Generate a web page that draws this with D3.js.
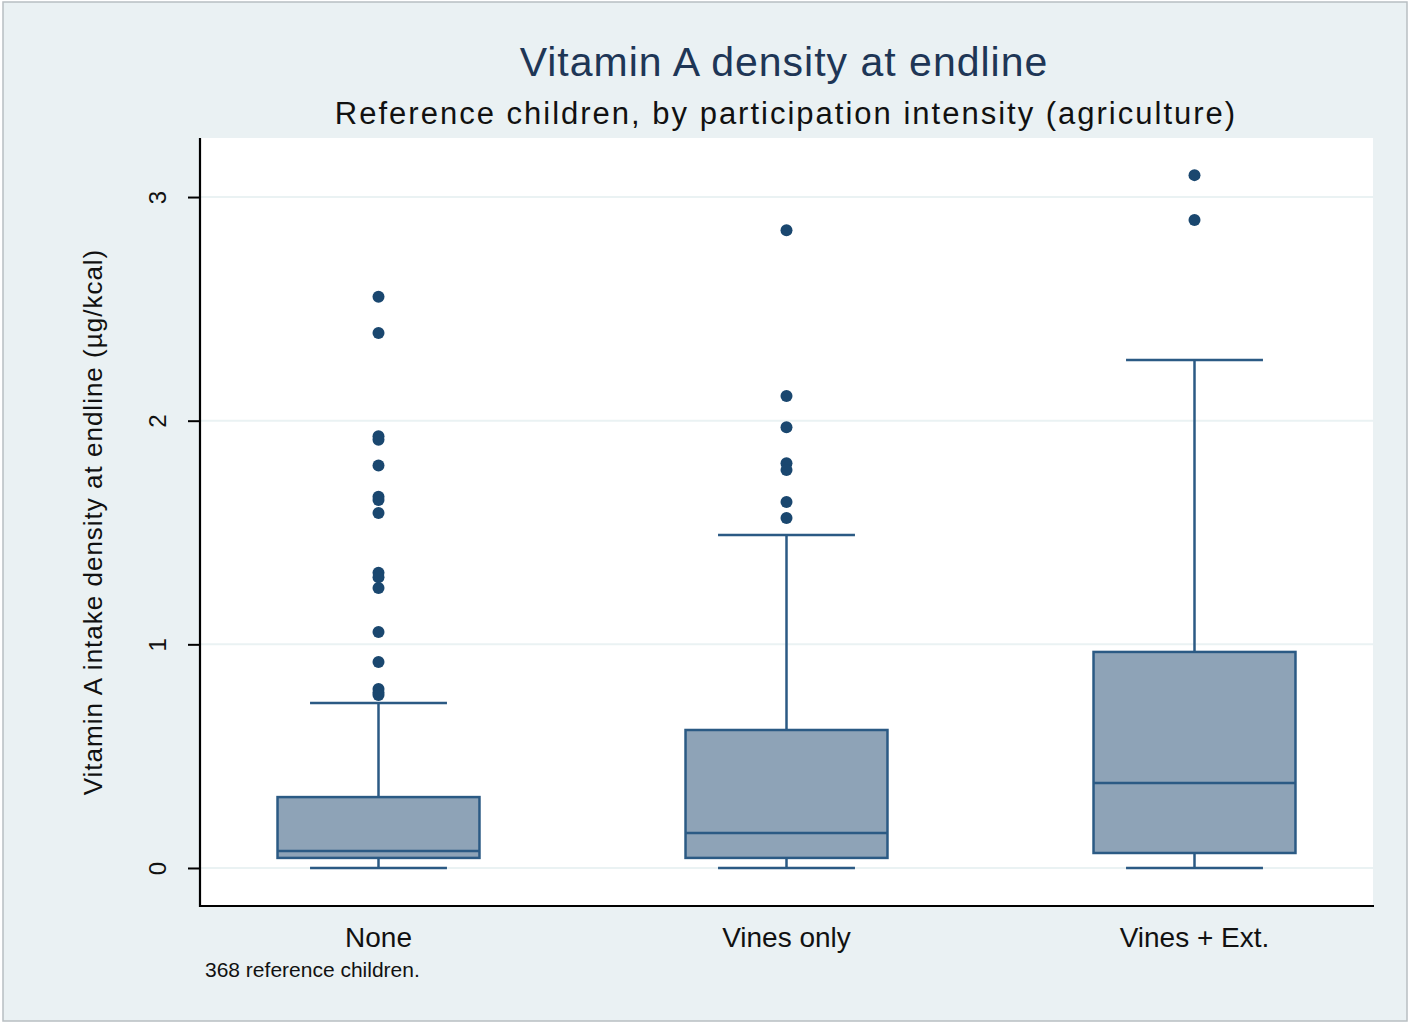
<!DOCTYPE html>
<html>
<head>
<meta charset="utf-8">
<script src="https://cdn.jsdelivr.net/npm/d3@7"></script>
<style>
  body { margin: 0; background: #ffffff; }
  text { font-family: "Liberation Sans", Arial, sans-serif; }
</style>
</head>
<body>
<div id="chart"></div>
<script>
// data
const groups = ["None", "Vines only", "Vines + Ext."];
const lowerWhisker = [0, 0, 0];
const q1 = [0.045, 0.045, 0.067];
const median = [0.076, 0.156, 0.380];
const q3 = [0.317, 0.617, 0.966];
const upperWhisker = [0.738, 1.489, 2.271];
const outliersNone = [2.554, 2.392, 1.93, 1.915, 1.80, 1.66, 1.645, 1.587, 1.32, 1.30, 1.252, 1.055, 0.921, 0.80, 0.785, 0.773];
const outliersVines = [2.852, 2.110, 1.971, 1.81, 1.78, 1.636, 1.565];
const outliersVinesExt = [3.098, 2.897];
const yTicks = [0, 1, 2, 3];

const W = 1409, H = 1023;
const margin = {top: 138, right: 36, bottom: 117, left: 200};
const w = W - margin.left - margin.right;
const h = H - margin.top - margin.bottom;

const svg = d3.select("#chart").append("svg")
  .attr("width", W).attr("height", H);

// outer background + frame
svg.append("rect").attr("x", 0).attr("y", 0).attr("width", W).attr("height", H).attr("fill", "#ffffff");
svg.append("rect").attr("x", 3).attr("y", 2).attr("width", W - 5).attr("height", H - 4)
  .attr("fill", "#eaf1f3").attr("stroke", "#b8bec2").attr("stroke-width", 1.5);

const g = svg.append("g").attr("transform", `translate(${margin.left}, ${margin.top})`);

// plot region
g.append("rect").attr("width", w).attr("height", h).attr("fill", "#ffffff");

const yScale = d3.scaleLinear().domain([-0.17, 3.264]).range([h, 0]);
const xScale = d3.scaleBand().domain(groups).range([0, w]).paddingInner(0.505).paddingOuter(0.19);

// gridlines
g.append("g").selectAll("line").data(yTicks).enter().append("line")
  .attr("x1", 0).attr("x2", w)
  .attr("y1", d => yScale(d)).attr("y2", d => yScale(d))
  .attr("stroke", "#eaf2f3").attr("stroke-width", 2);

// y axis
const yAxis = g.append("g")
  .call(d3.axisLeft(yScale).tickValues(yTicks).tickSize(12).tickFormat(d3.format("d")));
yAxis.select(".domain").attr("stroke", "#000").attr("stroke-width", 2.2).attr("d", `M0,0V${h + 1}`);
yAxis.selectAll(".tick line").attr("stroke", "#000").attr("stroke-width", 2);
yAxis.selectAll(".tick text")
  .attr("font-size", 24).attr("fill", "#111")
  .attr("transform", "translate(-42, 0) rotate(-90)")
  .attr("x", 0).attr("y", 0).attr("dy", "0.35em")
  .style("text-anchor", "middle");

// x axis line
g.append("line").attr("x1", 0).attr("x2", w + 1).attr("y1", h).attr("y2", h)
  .attr("stroke", "#000").attr("stroke-width", 2.2);

// x labels
g.selectAll(".xlab").data(groups).enter().append("text")
  .attr("class", "xlab")
  .attr("x", d => xScale(d) + xScale.bandwidth() / 2)
  .attr("y", h + 41)
  .attr("text-anchor", "middle")
  .attr("font-size", 28).attr("fill", "#111")
  .text(d => d);

const boxFill = "#8ea3b7", boxStroke = "#2b5a84", dotColor = "#1a476f";
const capHalf = xScale.bandwidth() * 0.339;

groups.forEach((grp, i) => {
  const cx = xScale(grp) + xScale.bandwidth() / 2;
  const bx = xScale(grp);
  const bg = g.append("g");
  // whiskers
  bg.append("line").attr("x1", cx).attr("x2", cx).attr("y1", yScale(q3[i])).attr("y2", yScale(upperWhisker[i]))
    .attr("stroke", boxStroke).attr("stroke-width", 2.5);
  bg.append("line").attr("x1", cx).attr("x2", cx).attr("y1", yScale(q1[i])).attr("y2", yScale(lowerWhisker[i]))
    .attr("stroke", boxStroke).attr("stroke-width", 2.5);
  bg.append("line").attr("x1", cx - capHalf).attr("x2", cx + capHalf)
    .attr("y1", yScale(upperWhisker[i])).attr("y2", yScale(upperWhisker[i]))
    .attr("stroke", boxStroke).attr("stroke-width", 2.5);
  bg.append("line").attr("x1", cx - capHalf).attr("x2", cx + capHalf)
    .attr("y1", yScale(lowerWhisker[i])).attr("y2", yScale(lowerWhisker[i]))
    .attr("stroke", boxStroke).attr("stroke-width", 2.5);
  // box
  bg.append("rect").attr("x", bx).attr("width", xScale.bandwidth())
    .attr("y", yScale(q3[i])).attr("height", yScale(q1[i]) - yScale(q3[i]))
    .attr("fill", boxFill).attr("stroke", boxStroke).attr("stroke-width", 2.5);
  bg.append("line").attr("x1", bx).attr("x2", bx + xScale.bandwidth())
    .attr("y1", yScale(median[i])).attr("y2", yScale(median[i]))
    .attr("stroke", boxStroke).attr("stroke-width", 2.5);
});

const outliers = [outliersNone, outliersVines, outliersVinesExt];
outliers.forEach((vals, i) => {
  const cx = xScale(groups[i]) + xScale.bandwidth() / 2;
  g.append("g").selectAll("circle").data(vals).enter().append("circle")
    .attr("cx", cx).attr("cy", d => yScale(d)).attr("r", 6)
    .attr("fill", dotColor);
});

// titles
svg.append("text").attr("x", 784).attr("y", 76).attr("text-anchor", "middle")
  .attr("font-size", 41).attr("letter-spacing", 1).attr("fill", "#1e3656").text("Vitamin A density at endline");
svg.append("text").attr("x", 786).attr("y", 124).attr("text-anchor", "middle")
  .attr("font-size", 31).attr("letter-spacing", 2).attr("fill", "#111").text("Reference children, by participation intensity (agriculture)");

// y axis title
svg.append("text")
  .attr("transform", `translate(102, 522) rotate(-90)`)
  .attr("text-anchor", "middle").attr("font-size", 26).attr("letter-spacing", 1).attr("fill", "#111")
  .text("Vitamin A intake density at endline (µg/kcal)");

// note
svg.append("text").attr("x", 205).attr("y", 977).attr("font-size", 21).attr("fill", "#111")
  .text("368 reference children.");
</script>
</body>
</html>
